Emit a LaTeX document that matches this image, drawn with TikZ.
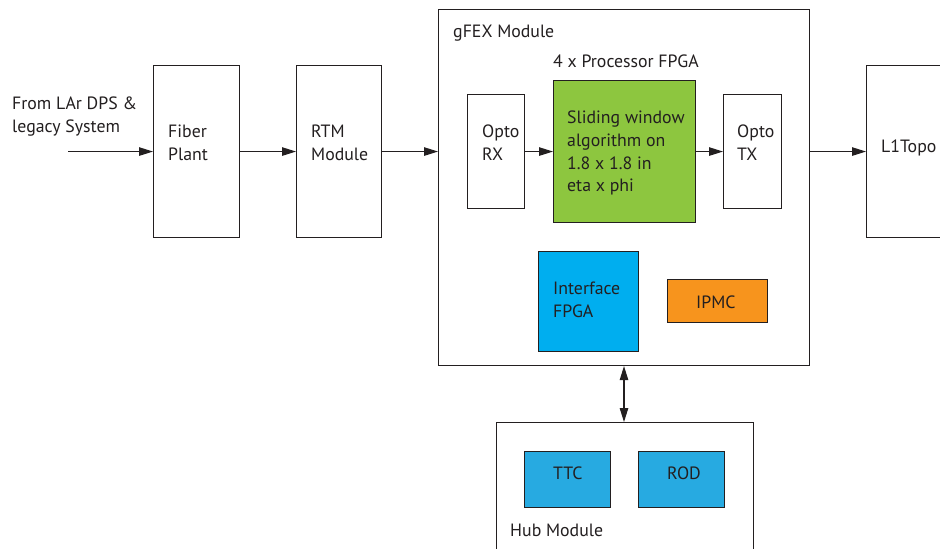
\documentclass[tikz,border=0pt]{standalone}
\usepackage{fontspec}
\setmainfont{PT Sans}
\usetikzlibrary{arrows.meta}
\definecolor{ink}{HTML}{231F20}
\definecolor{fgreen}{HTML}{8DC63F}
\definecolor{fblue}{HTML}{00AEEF}
\definecolor{hblue}{HTML}{27AAE1}
\definecolor{forange}{HTML}{F7941D}
\tikzset{
  box/.style={draw=ink, line width=1.1pt, anchor=north west, inner sep=0pt},
  lbl/.style={anchor=base west, inner sep=0pt, text=ink, font=\fontsize{17.8}{21}\selectfont},
  conn/.style={draw=ink, line width=1.1pt, -{Triangle[length=14pt,width=8.5pt]}},
  dconn/.style={draw=ink, line width=1.1pt, {Triangle[length=14pt,width=8.5pt]}-{Triangle[length=14pt,width=8.5pt]}}
}
\begin{document}
\begin{tikzpicture}[x=1pt,y=-1pt]
\useasboundingbox (0,0) rectangle (940,549);
\clip (0,0) rectangle (940,549);
\fill[white] (0,0) rectangle (940,549);
% boxes
\node[box, minimum width=86, minimum height=172] (fiber) at (153,65) {};
\node[box, minimum width=85, minimum height=172] (rtm) at (296,65) {};
\node[box, minimum width=371, minimum height=356] (gfex) at (438,9) {};
\node[box, minimum width=57, minimum height=114] (orx) at (467,94) {};
\node[box, fill=fgreen, minimum width=142, minimum height=142] (algo) at (553,80) {};
\node[box, minimum width=58, minimum height=114] (otx) at (723,94) {};
\node[box, minimum width=120, minimum height=172] (l1) at (866,65) {};
\node[box, fill=fblue, minimum width=100, minimum height=100] (intf) at (538,251) {};
\node[box, fill=forange, minimum width=100, minimum height=43] (ipmc) at (667,279) {};
\node[box, minimum width=257, minimum height=160] (hub) at (496,422) {};
\node[box, fill=hblue, minimum width=86, minimum height=56] (ttc) at (524,451) {};
\node[box, fill=hblue, minimum width=86, minimum height=56] (rod) at (638,451) {};
% labels
\node[lbl] (src1) at (12,109) {From LAr DPS \&};
\node[lbl] (src2) at (12,132) {legacy System};
\node[lbl] (fib1) at (168,137) {Fiber};
\node[lbl] (fib2) at (168,160) {Plant};
\node[lbl] (rtm1) at (311,137) {RTM};
\node[lbl] (rtm2) at (311,160) {Module};
\node[lbl] (gfexl) at (453,37) {gFEX Module};
\node[lbl] (procl) at (553,67) {4 x Processor FPGA};
\node[lbl] (orx1) at (482,137) {Opto};
\node[lbl] (orx2) at (482,160) {RX};
\node[lbl] (otx1) at (737,137) {Opto};
\node[lbl] (otx2) at (737,160) {TX};
\node[lbl] (alg1) at (567,123) {Sliding window};
\node[lbl] (alg2) at (567,146) {algorithm on};
\node[lbl] (alg3) at (567,169) {1.8 x 1.8 in};
\node[lbl] (alg4) at (567,191) {eta x phi};
\node[lbl] (l1l) at (881,152) {L1Topo};
\node[lbl] (intf1) at (553,294) {Interface};
\node[lbl] (intf2) at (553,317) {FPGA};
\node[lbl] (ipmcl) at (696,308) {IPMC};
\node[lbl] (ttcl) at (553,479) {TTC};
\node[lbl] (rodl) at (667,479) {ROD};
\node[lbl] (hubl) at (510,536) {Hub Module};
% connectors
\coordinate (in) at (68,0);
\coordinate (ax) at (624,0);
\draw[conn] (in |- fiber.west) -- (fiber.west);
\draw[conn] (fiber.east) -- (rtm.west);
\draw[conn] (rtm.east) -- (rtm.east -| gfex.west);
\draw[conn] (orx.east) -- (algo.west);
\draw[conn] (algo.east) -- (otx.west);
\draw[conn] (gfex.east |- l1.west) -- (l1.west);
\draw[dconn] (gfex.south -| ax) -- (hub.north -| ax);
\end{tikzpicture}
\end{document}
